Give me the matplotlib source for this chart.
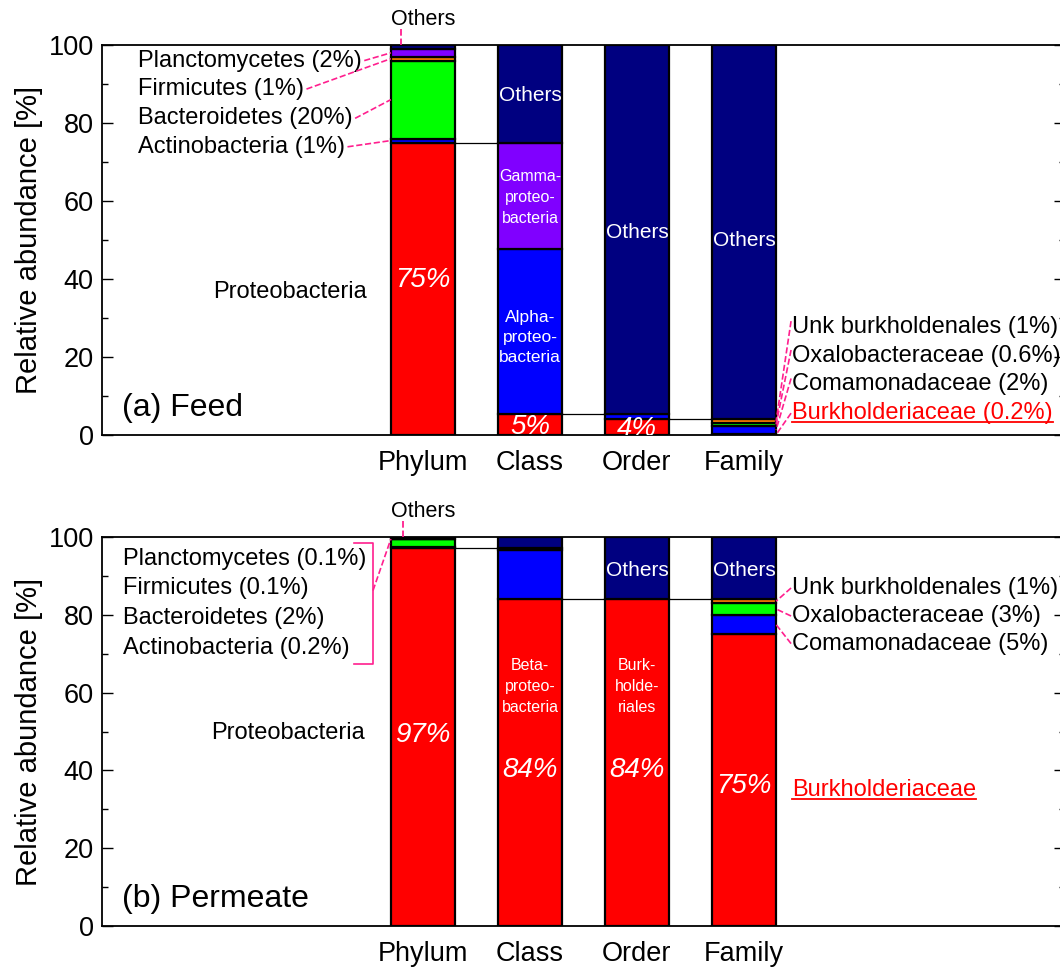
import numpy as np
import matplotlib.pyplot as plt
from matplotlib.ticker import MultipleLocator

plt.rcParams['font.family'] = ['Liberation Sans', 'DejaVu Sans']

categories = ['Phylum', 'Class', 'Order', 'Family']

RED, BLUE, GREEN, ORANGE, PURPLE, NAVY = '#ff0000', '#0000ff', '#00ff00', '#ff8000', '#8000ff', '#000080'
PINK = '#ff1f8e'

# stacked from bottom up
feed_phylum = [75.0, 1.0, 20.0, 1.0, 2.0, 1.0]
feed_class = [5.3, 42.4, 27.3, 25.0]
feed_order = [4.0, 1.3, 94.7]
feed_family = [0.2, 2.2, 0.6, 1.0, 96.0]

perm_phylum = [97.2, 0.2, 2.0, 0.1, 0.1, 0.4]
perm_class = [84.0, 12.7, 0.6, 2.7]
perm_order = [84.0, 16.0]
perm_family = [75.0, 5.0, 3.0, 1.0, 16.0]

phylum_colors = [RED, BLUE, GREEN, ORANGE, PURPLE, NAVY]
class_colors = [RED, BLUE, PURPLE, NAVY]
feed_order_colors = [RED, BLUE, NAVY]
perm_order_colors = [RED, NAVY]
family_colors = [RED, BLUE, GREEN, ORANGE, NAVY]

phylum_minor = ['Actinobacteria', 'Bacteroidetes', 'Firmicutes', 'Planctomycetes']
feed_minor_pct = ['1%', '20%', '1%', '2%']
perm_minor_pct = ['0.2%', '2%', '0.1%', '0.1%']
family_minor = ['Comamonadaceae', 'Oxalobacteraceae', 'Unk burkholdenales']
feed_family_pct = ['2%', '0.6%', '1%']
perm_family_pct = ['5%', '3%', '1%']

W = 0.6
FS = 17
PFS = 20
x = np.arange(len(categories))

fig = plt.figure(figsize=(10.6, 9.68), dpi=100)
ax1 = fig.add_axes([0.0962, 0.5506, 0.9085, 0.4029])
ax2 = fig.add_axes([0.0962, 0.0434, 0.9085, 0.4018])


def stack(ax, xi, vals, cols):
    vals = np.asarray(vals)
    bottoms = np.concatenate([[0], np.cumsum(vals)[:-1]])
    ax.bar(xi, vals, bottom=bottoms, width=W, color=cols, edgecolor='black', linewidth=1.6, zorder=3)
    return bottoms + vals / 2


def connect(ax, xi, level):
    ax.plot([xi + W / 2, xi + 1 - W / 2], [level, level], color='black', lw=0.9, zorder=2)


for ax, lab in [(ax1, '(a) Feed'), (ax2, '(b) Permeate')]:
    ax.set_xlim(-3, 6)
    ax.set_ylim(0, 100)
    ax.set_xticks(x)
    ax.set_xticklabels(categories)
    ax.tick_params(axis='x', length=0, pad=11, labelsize=19.5)
    ax.yaxis.set_major_locator(MultipleLocator(20))
    ax.yaxis.set_minor_locator(MultipleLocator(10))
    ax.tick_params(axis='y', which='both', direction='in', left=True, right=True, labelsize=19.5, pad=6)
    ax.tick_params(axis='y', which='major', length=8, width=1)
    ax.tick_params(axis='y', which='minor', length=4, width=1)
    ax.set_ylabel('Relative abundance [%]', fontsize=21, labelpad=4)
    for s in ax.spines.values():
        s.set_linewidth(1.3)
    ax.text(-2.81, 7.0, lab, fontsize=23, va='center', ha='left')

# ---------- (a) Feed ----------
mid_p = stack(ax1, 0, feed_phylum, phylum_colors)
mid_c = stack(ax1, 1, feed_class, class_colors)
mid_o = stack(ax1, 2, feed_order, feed_order_colors)
mid_f = stack(ax1, 3, feed_family, family_colors)
connect(ax1, 0, sum(feed_class[:3]))
connect(ax1, 1, feed_class[0])
connect(ax1, 2, feed_order[0])

ax1.text(0, 39.7, f'{feed_phylum[0]:.0f}%', color='white', fontsize=PFS, style='italic', ha='center', va='center', zorder=4)
ax1.text(1, 2.0, '5%', color='white', fontsize=PFS, style='italic', ha='center', va='center', zorder=4, clip_on=True)
ax1.text(2, 1.6, '4%', color='white', fontsize=PFS, style='italic', ha='center', va='center', zorder=4, clip_on=True)
ax1.text(1, 87.0, 'Others', color='white', fontsize=15, ha='center', va='center', zorder=4)
ax1.text(1, 60.8, 'Gamma-\nproteo-\nbacteria', color='white', fontsize=11.5, ha='center', va='center', zorder=4, linespacing=1.5)
ax1.text(1, 25.0, 'Alpha-\nproteo-\nbacteria', color='white', fontsize=12.5, ha='center', va='center', zorder=4, linespacing=1.45)
ax1.text(2, 52.0, 'Others', color='white', fontsize=15, ha='center', va='center', zorder=4)
ax1.text(3, 50.0, 'Others', color='white', fontsize=15, ha='center', va='center', zorder=4)
ax1.text(-1.24, 36.7, 'Proteobacteria', fontsize=FS, ha='center', va='center')

ax1.text(0, 106.5, 'Others', fontsize=15.5, ha='center', va='center', clip_on=False)
ax1.plot([-0.21, -0.21], [104.0, 100], ls='--', color=PINK, lw=1.3, clip_on=False, zorder=5)

fig.canvas.draw()
rend = fig.canvas.get_renderer()

left_y = [73.9, 81.2, 88.7, 96.0]
for name, pct, ty, sy in zip(phylum_minor, feed_minor_pct, left_y, mid_p[1:5]):
    t = ax1.text(-2.66, ty, f'{name} ({pct})', fontsize=FS, ha='left', va='center')
    bb = t.get_window_extent(rend).transformed(ax1.transData.inverted())
    ax1.plot([bb.x1 + 0.02, -W / 2], [ty, sy], ls='--', color=PINK, lw=1.2, zorder=5)

right_y = [13.0, 20.3, 27.7]
for name, pct, ty, sy in zip(family_minor, feed_family_pct, right_y, mid_f[1:4]):
    ax1.text(3.45, ty, f'{name} ({pct})', fontsize=FS, ha='left', va='center')
    ax1.plot([3.44, 3 + W / 2], [ty + 1.5, sy], ls='--', color=PINK, lw=1.2, zorder=5)
tb = ax1.text(3.45, 5.6, 'Burkholderiaceae (0.2%)', fontsize=FS, ha='left', va='center', color='red')
ax1.plot([3.44, 3 + W / 2], [5.6, mid_f[0]], ls='--', color=PINK, lw=1.2, zorder=5)
bb = tb.get_window_extent(rend).transformed(ax1.transData.inverted())
ax1.plot([bb.x0, bb.x1], [bb.y0 + 0.6, bb.y0 + 0.6], color='red', lw=1.3, clip_on=False)

# ---------- (b) Permeate ----------
mid_p = stack(ax2, 0, perm_phylum, phylum_colors)
mid_c = stack(ax2, 1, perm_class, class_colors)
mid_o = stack(ax2, 2, perm_order, perm_order_colors)
mid_f = stack(ax2, 3, perm_family, family_colors)
connect(ax2, 0, sum(perm_class[:3]))
connect(ax2, 1, perm_class[0])
connect(ax2, 2, perm_order[0])

ax2.text(0, 49.0, f'{perm_phylum[0]:.0f}%', color='white', fontsize=PFS, style='italic', ha='center', va='center', zorder=4)
ax2.text(1, 40.0, f'{perm_class[0]:.0f}%', color='white', fontsize=PFS, style='italic', ha='center', va='center', zorder=4)
ax2.text(2, 40.0, f'{perm_order[0]:.0f}%', color='white', fontsize=PFS, style='italic', ha='center', va='center', zorder=4)
ax2.text(3, 36.0, f'{perm_family[0]:.0f}%', color='white', fontsize=PFS, style='italic', ha='center', va='center', zorder=4)
ax2.text(1, 61.5, 'Beta-\nproteo-\nbacteria', color='white', fontsize=11.5, ha='center', va='center', zorder=4, linespacing=1.5)
ax2.text(2, 61.5, 'Burk-\nholde-\nriales', color='white', fontsize=11.5, ha='center', va='center', zorder=4, linespacing=1.5)
ax2.text(2, 91.3, 'Others', color='white', fontsize=15, ha='center', va='center', zorder=4)
ax2.text(3, 91.3, 'Others', color='white', fontsize=15, ha='center', va='center', zorder=4)
ax2.text(-1.26, 49.5, 'Proteobacteria', fontsize=FS, ha='center', va='center')

ax2.text(0, 106.5, 'Others', fontsize=15.5, ha='center', va='center', clip_on=False)
ax2.plot([-0.19, -0.19], [104.0, 100], ls='--', color=PINK, lw=1.3, clip_on=False, zorder=5)

left_y = [71.5, 79.2, 86.9, 94.4]
for name, pct, ty in zip(phylum_minor, perm_minor_pct, left_y):
    ax2.text(-2.80, ty, f'{name} ({pct})', fontsize=FS, ha='left', va='center')
bx0, bx1, by0, by1 = -0.645, -0.467, 67.4, 98.5
ax2.plot([bx0, bx1, bx1, bx0], [by1, by1, by0, by0], color=PINK, lw=1.2, zorder=5)
ax2.plot([bx1, -W / 2], [(by0 + by1) / 2 + 3.3, 99.5], ls='--', color=PINK, lw=1.2, zorder=5)

right_y = [72.6, 79.7, 86.9]
for name, pct, ty, sy in zip(family_minor, perm_family_pct, right_y, mid_f[1:4]):
    ax2.text(3.45, ty, f'{name} ({pct})', fontsize=FS, ha='left', va='center')
    ax2.plot([3.44, 3 + W / 2], [ty, sy], ls='--', color=PINK, lw=1.2, zorder=5)
tb = ax2.text(3.45, 34.9, 'Burkholderiaceae', fontsize=FS, ha='left', va='center', color='red')
bb = tb.get_window_extent(rend).transformed(ax2.transData.inverted())
ax2.plot([bb.x0, bb.x1], [bb.y0 + 0.6, bb.y0 + 0.6], color='red', lw=1.3)

fig.savefig('out.png', dpi=100)
